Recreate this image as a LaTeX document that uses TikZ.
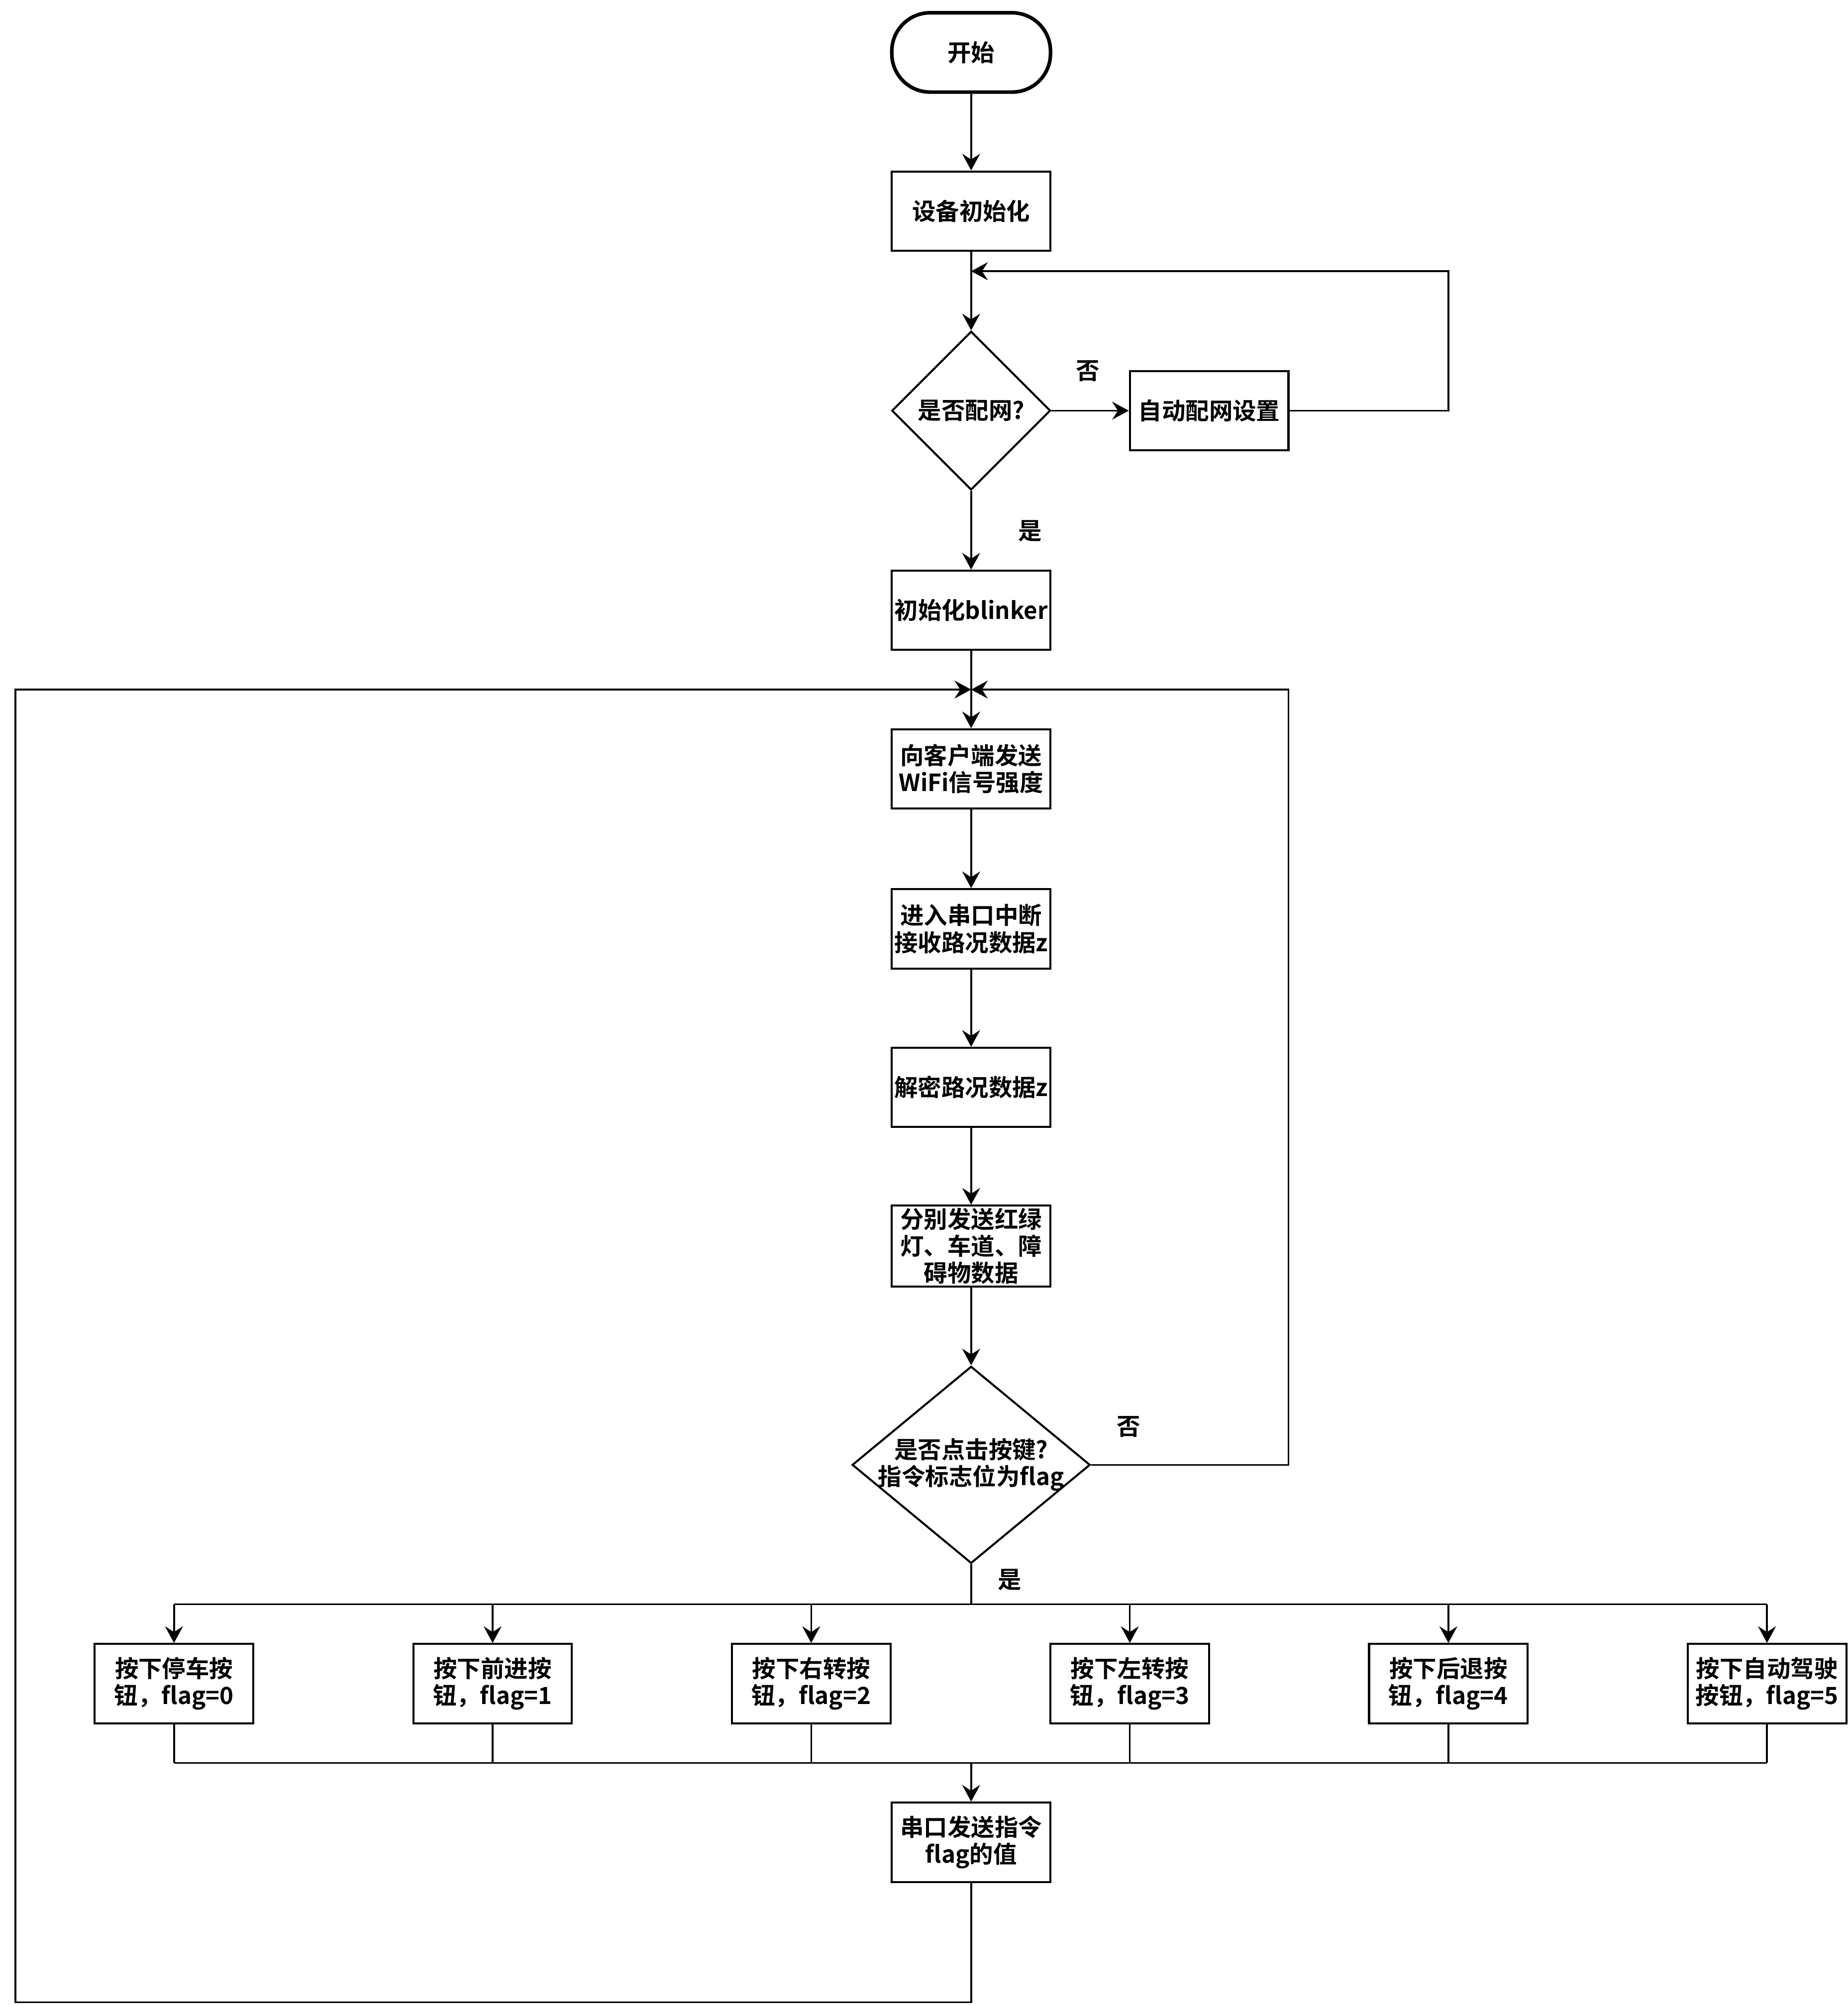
\documentclass[tikz,border=0pt]{standalone}
\usepackage{fontspec}
\setmainfont{Noto Sans CJK SC}[BoldFont={Noto Sans CJK SC Bold}]
\usepackage{tikz}
\usetikzlibrary{arrows.meta,positioning,shapes.geometric}

\begin{document}
\begin{tikzpicture}[
    box/.style={rectangle, draw, line width=0.9pt,
                minimum width=2.48cm, minimum height=1.24cm,
                inner xsep=0pt, inner ysep=1pt,
                font=\bfseries\fontsize{10.5}{12}\selectfont, align=center},
    term/.style={box, rounded corners=0.6cm, line width=1.6pt},
    dec/.style={diamond, draw, line width=0.9pt, inner sep=0pt,
                font=\bfseries\fontsize{10.5}{12}\selectfont, align=center},
    dectext/.style={font=\bfseries\fontsize{10.5}{12}\selectfont, align=center,
                    inner sep=0pt},
    arr/.style={-{Stealth[length=2.6mm, width=2.8mm, inset=0.9mm]}, line width=0.8pt},
    line/.style={line width=0.8pt},
    note/.style={font=\bfseries\fontsize{10.5}{12}\selectfont},
  ]
  \useasboundingbox (0,0) rectangle (28.88,-31.36);

  % 主流程
  \node[term] (start) at (15.18,-0.82) {开始};
  \node[box] (init) at (15.18,-3.30) {设备初始化};
  \node[dec, minimum width=2.48cm, minimum height=2.48cm] (net) at (15.18,-6.42)
    {是否配网?};
  \node[box] (autonet) at (18.90,-6.42) {自动配网设置};
  \node[box] (blinker) at (15.18,-9.54) {初始化blinker};
  \node[box] (wifi) at (15.18,-12.02) {向客户端发送\\WiFi信号强度};
  \node[box] (uart) at (15.18,-14.52) {进入串口中断\\接收路况数据z};
  \node[box] (decode) at (15.18,-17.00) {解密路况数据z};
  \node[box] (split) at (15.18,-19.48) {分别发送红绿\\灯、车道、障\\碍物数据};
  \node[dec, minimum width=3.72cm, minimum height=3.08cm,
        label={[dectext]center:是否点击按键?\\指令标志位为flag}] (key)
    at (15.18,-22.90) {};

  % 按钮
  \node[box] (btn0) at (2.72,-26.32) {按下停车按\\钮，flag=0};
  \node[box] (btn1) at (7.70,-26.32) {按下前进按\\钮，flag=1};
  \node[box] (btn2) at (12.68,-26.32) {按下右转按\\钮，flag=2};
  \node[box] (btn3) at (17.66,-26.32) {按下左转按\\钮，flag=3};
  \node[box] (btn4) at (22.64,-26.32) {按下后退按\\钮，flag=4};
  \node[box] (btn5) at (27.62,-26.32) {按下自动驾驶\\按钮，flag=5};

  \node[box] (send) at (15.18,-28.80) {串口发送指令\\flag的值};

  % 汇合点
  \coordinate (j1) at (15.18,-4.24);
  \coordinate (c1) at (22.64,-4.24);
  \coordinate (j2) at (15.18,-10.78);
  \coordinate (c2) at (20.14,-10.78);
  \coordinate (c3) at (0.24,-31.30);
  \coordinate (c4) at (0.24,-10.78);
  \coordinate (b1) at (15.18,-25.08);
  \coordinate (b2) at (15.18,-27.56);

  % 箭头
  \draw[arr] (start) -- (init);
  \draw[arr] (init) -- (net);
  \draw[arr] (net) -- (autonet);
  \draw[arr] (autonet.east) -| (c1) -- (j1);
  \draw[arr] (net) -- (blinker);
  \draw[arr] (blinker) -- (wifi);
  \draw[arr] (wifi) -- (uart);
  \draw[arr] (uart) -- (decode);
  \draw[arr] (decode) -- (split);
  \draw[arr] (split) -- (key);
  \draw[arr] (key.east) -| (c2) -- (j2);
  \draw[arr] (send.south) |- (c3) -- (c4) -- (j2);

  % 分支
  \draw[line] (key.south) -- (b1);
  \draw[line] (btn0 |- b1) -- (btn5 |- b1);
  \draw[line] (btn0 |- b2) -- (btn5 |- b2);
  \foreach \b in {btn0,btn1,btn2,btn3,btn4,btn5} {
    \draw[arr] (b1 -| \b) -- (\b.north);
    \draw[line] (\b.south) -- (b2 -| \b);
  }
  \draw[arr] (b2) -- (send);

  % 标签
  \node[note] (no1) at (17.00,-5.80) {否};
  \node[note] (yes1) at (16.10,-8.30) {是};
  \node[note] (no2) at (17.64,-22.30) {否};
  \node[note] (yes2) at (15.78,-24.70) {是};
\end{tikzpicture}
\end{document}
